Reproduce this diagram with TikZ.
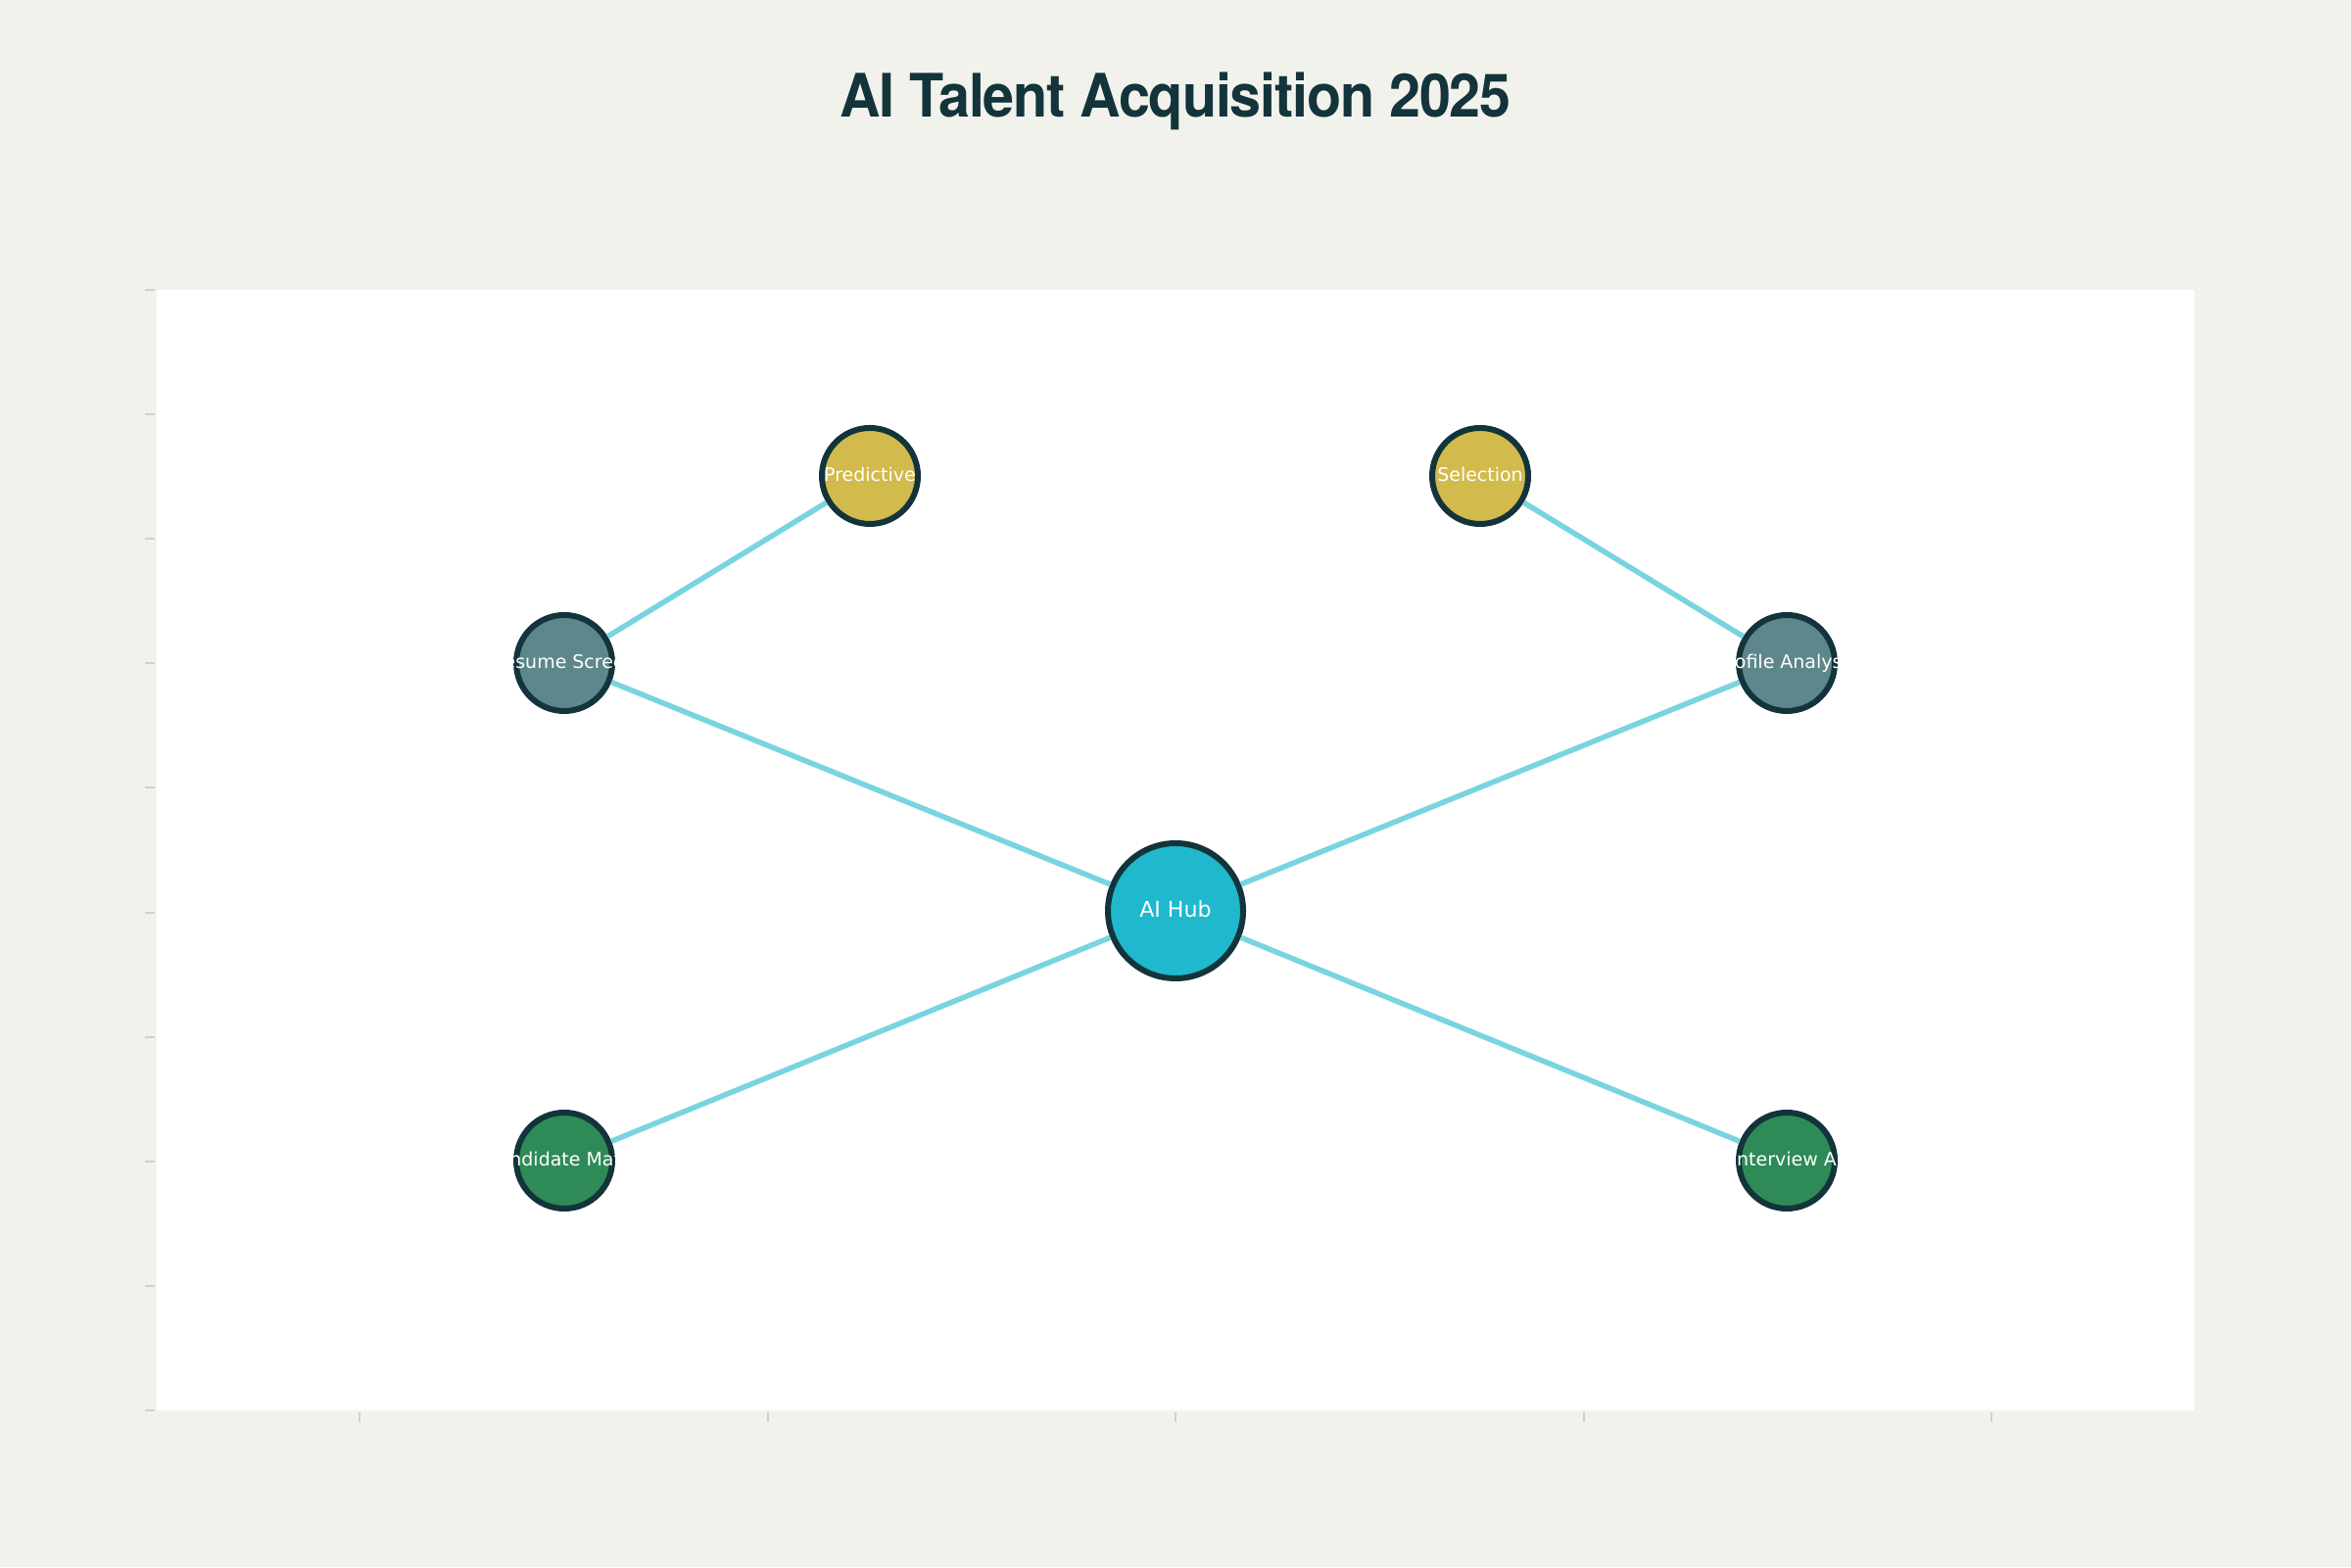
\documentclass[tikz,border=0pt]{standalone}
\usepackage{graphicx}
\usepackage{fontspec}
\setmainfont{DejaVu Sans}
\newfontfamily\titlefont[LetterSpace=-2.0]{TeX Gyre Heros}
\definecolor{bgc}{HTML}{F2F2EC}
\definecolor{ink}{HTML}{13343B}
\definecolor{edgec}{RGB}{121,212,225}
\definecolor{hubc}{HTML}{1FB8CD}
\definecolor{grayc}{HTML}{5D878B}
\definecolor{yelc}{HTML}{D2BA4C}
\definecolor{grnc}{HTML}{2E8B57}
\definecolor{tickc}{HTML}{CDD2CC}
\begin{document}
\begin{tikzpicture}[x=1cm,y=1cm,
  nd/.style={circle, draw=ink, line width=0.06cm, minimum size=0.98cm, inner sep=0pt},
  hubnode/.style={circle, draw=ink, line width=0.06cm, minimum size=1.38cm, inner sep=0pt, fill=hubc},
  lnk/.style={draw=edgec, line width=0.055cm},
  lbl/.style={text=white, font=\fontsize{5.4}{6}\selectfont, anchor=base, inner sep=0pt},
  hublbl/.style={text=white, font=\fontsize{6.3}{7}\selectfont, anchor=base, inner sep=0pt},
  tk/.style={draw=tickc, line width=0.02cm}]
\useasboundingbox (0,0) rectangle (24,16);
\fill[bgc] (0,0) rectangle (24,16);
\fill[white] (1.6,1.6) rectangle (22.4,13.04);
% ticks
\foreach \k in {0,...,9} \draw[tk] (1.48,{13.04-\k*1.2711}) -- (1.58,{13.04-\k*1.2711});
\foreach \x in {3.67,7.835,12,16.165,20.33} \draw[tk] (\x,1.58) -- (\x,1.48);
% title
\node[font=\titlefont\bfseries\fontsize{17.4}{20}\selectfont, text=ink, anchor=base,
      inner sep=0pt] (title) at (12,14.80) {\scalebox{0.94}[1]{AI Talent Acquisition 2025}};
% nodes
\node[hubnode] (hub) at (12,6.70) {};
\node[nd, fill=grayc] (res) at (5.76,9.23) {};
\node[nd, fill=grayc] (prof) at (18.24,9.23) {};
\node[nd, fill=yelc] (pred) at (8.88,11.14) {};
\node[nd, fill=yelc] (sel) at (15.11,11.14) {};
\node[nd, fill=grnc] (cand) at (5.76,4.15) {};
\node[nd, fill=grnc] (intv) at (18.24,4.15) {};
% edges
\draw[lnk] (hub) -- (res);
\draw[lnk] (hub) -- (prof);
\draw[lnk] (hub) -- (cand);
\draw[lnk] (hub) -- (intv);
\draw[lnk] (res) -- (pred);
\draw[lnk] (prof) -- (sel);
% labels
\path (hub.center) ++(0,-0.065) node[hublbl] (hubT) {AI Hub};
\path (res.center) ++(0,-0.06) node[lbl] (resT) {Resume Screen};
\path (prof.center) ++(0,-0.06) node[lbl] (profT) {Profile Analysis};
\path (pred.center) ++(0,-0.06) node[lbl] (predT) {Predictive};
\path (sel.center) ++(0,-0.06) node[lbl] (selT) {Selection};
\path (cand.center) ++(0,-0.06) node[lbl] (candT) {Candidate Match};
\path (intv.center) ++(0,-0.06) node[lbl] (intvT) {Interview AI};
\end{tikzpicture}
\end{document}
